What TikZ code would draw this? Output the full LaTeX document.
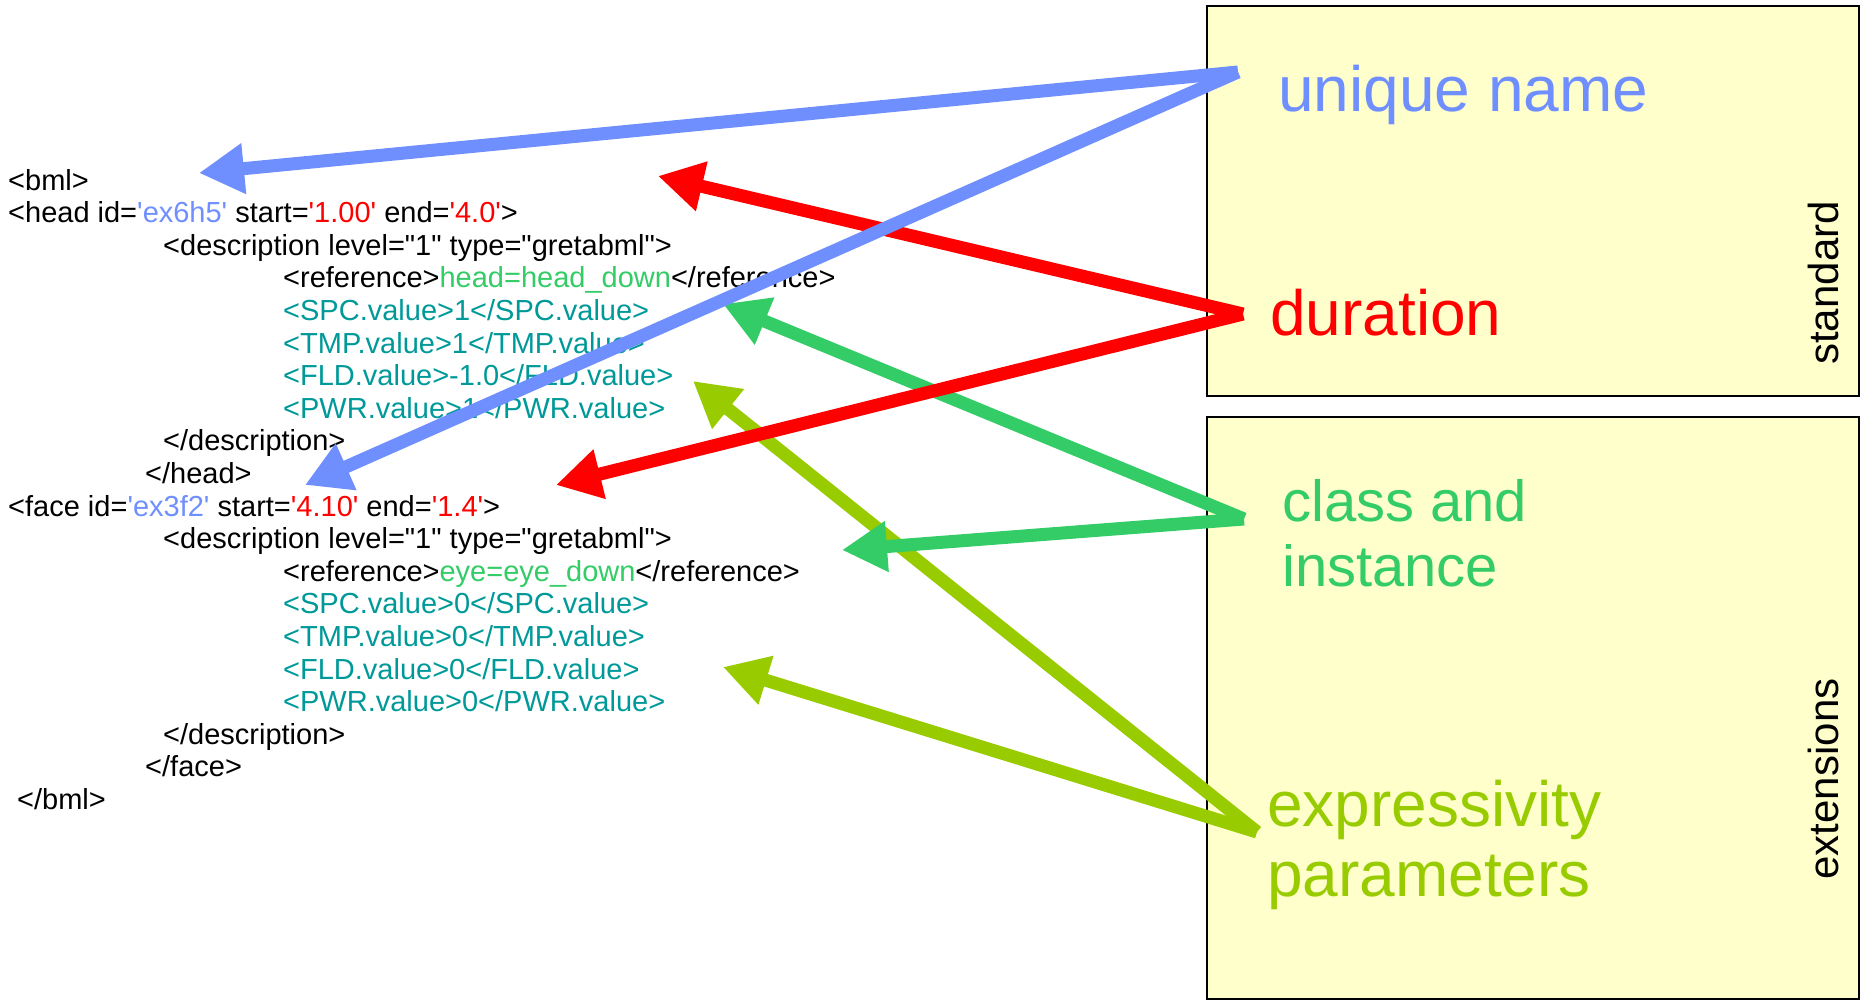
\documentclass[tikz,border=0pt]{standalone}
\usepackage{fontspec}
\setmainfont{Liberation Sans}
\newfontfamily\codefont{Liberation Sans}
\usepackage{tikz}
\usetikzlibrary{calc,positioning,arrows.meta}

\definecolor{idblue}{RGB}{111,143,255}
\definecolor{durred}{RGB}{255,0,0}
\definecolor{clsgreen}{RGB}{51,204,102}
\definecolor{exgreen}{RGB}{153,204,0}
\definecolor{valteal}{RGB}{0,153,153}
\definecolor{boxyellow}{RGB}{255,255,204}

\newcommand{\idv}[1]{\textcolor{idblue}{#1}}
\newcommand{\durv}[1]{\textcolor{durred}{#1}}
\newcommand{\clsv}[1]{\textcolor{clsgreen}{#1}}
\newcommand{\valv}[1]{\textcolor{valteal}{#1}}

\begin{document}
\begin{tikzpicture}[x=1pt,y=-1pt,
		code/.style={anchor=base west,inner sep=0pt,font=\codefont\fontsize{29}{32}\selectfont},
		label/.style={anchor=base west,inner sep=0pt,font=\fontsize{64}{70}\selectfont},
		side/.style={inner sep=0pt,rotate=90,font=\fontsize{42}{46}\selectfont},
		panel/.style={draw=black,line width=2pt,fill=boxyellow},
		pointer/.style={line width=13pt,draw=#1,-{Triangle[length=45pt,width=48pt]}}]
		\useasboundingbox (0,0) rectangle (1865,1003);
		% the two panels
		\draw[panel] (1207,6) rectangle (1859,396);
		\draw[panel] (1207,417) rectangle (1859,999);
		\node(std) [side] at (1823,283) {standard};
		\node(ext) [side] at (1823,779) {extensions};
		\node(uname) [label,text=idblue] at (1278,112) {unique name};
		\node(dur) [label,text=durred] at (1270,335) {duration};
		% base of a two-line node is its last line
		\node(cls) [label,text=clsgreen,font=\fontsize{58}{65}\selectfont,align=left] at (1282,586) {class and\\instance};
		\node(expr) [label,text=exgreen,align=left] at (1267,896) {expressivity\\parameters};
		% the bml code
		\node(bml) [code] at (8,190) {<bml>};
		\node(head) [code] at (8,222.6) {<head id=\idv{'ex6h5'} start=\durv{'1.00'} end=\durv{'4.0'}>};
		\node(hdesc) [code] at (163,255.2) {<description level="1" type="gretabml">};
		\node(href) [code] at (283,287.8) {<reference>\clsv{head=head\_down}</reference>};
		\node(hspc) [code] at (283,320.4) {\valv{<SPC.value>1</SPC.value>}};
		\node(htmp) [code] at (283,353) {\valv{<TMP.value>1</TMP.value>}};
		\node(hfld) [code] at (283,385.6) {\valv{<FLD.value>-1.0</FLD.value>}};
		\node(hpwr) [code] at (283,418.2) {\valv{<PWR.value>1</PWR.value>}};
		\node(hdescend) [code] at (163,450.8) {</description>};
		\node(headend) [code] at (145,483.4) {</head>};
		\node(face) [code] at (8,516) {<face id=\idv{'ex3f2'} start=\durv{'4.10'} end=\durv{'1.4'}>};
		\node(fdesc) [code] at (163,548.6) {<description level="1" type="gretabml">};
		\node(fref) [code] at (283,581.2) {<reference>\clsv{eye=eye\_down}</reference>};
		\node(fspc) [code] at (283,613.8) {\valv{<SPC.value>0</SPC.value>}};
		\node(ftmp) [code] at (283,646.4) {\valv{<TMP.value>0</TMP.value>}};
		\node(ffld) [code] at (283,679) {\valv{<FLD.value>0</FLD.value>}};
		\node(fpwr) [code] at (283,711.6) {\valv{<PWR.value>0</PWR.value>}};
		\node(fdescend) [code] at (163,744.2) {</description>};
		\node(faceend) [code] at (145,776.8) {</face>};
		\node(bmlend) [code] at (17,809.4) {</bml>};
		% arrow ends
		\coordinate (un) at (1238,72);
		\coordinate (du) at (1243,314);
		\coordinate (ci) at (1244,519);
		\coordinate (ep) at (1257,832);
		\coordinate (t1) at (199,173);
		\coordinate (t2) at (305,485);
		\coordinate (t3) at (658,176);
		\coordinate (t4) at (556,485);
		\coordinate (t5) at (723,304);
		\coordinate (t6) at (842,550);
		\coordinate (t7) at (693,381);
		\coordinate (t8) at (723,667);
		\path
			(ep) edge[pointer=exgreen] (t7)
			(ep) edge[pointer=exgreen] (t8);
		\path
			(ci) edge[pointer=clsgreen] (t5)
			(ci) edge[pointer=clsgreen] (t6);
		\path
			(du) edge[pointer=durred] (t3)
			(du) edge[pointer=durred] (t4);
		\path
			(un) edge[pointer=idblue] (t1)
			(un) edge[pointer=idblue] (t2);
	\end{tikzpicture}
\end{document}
